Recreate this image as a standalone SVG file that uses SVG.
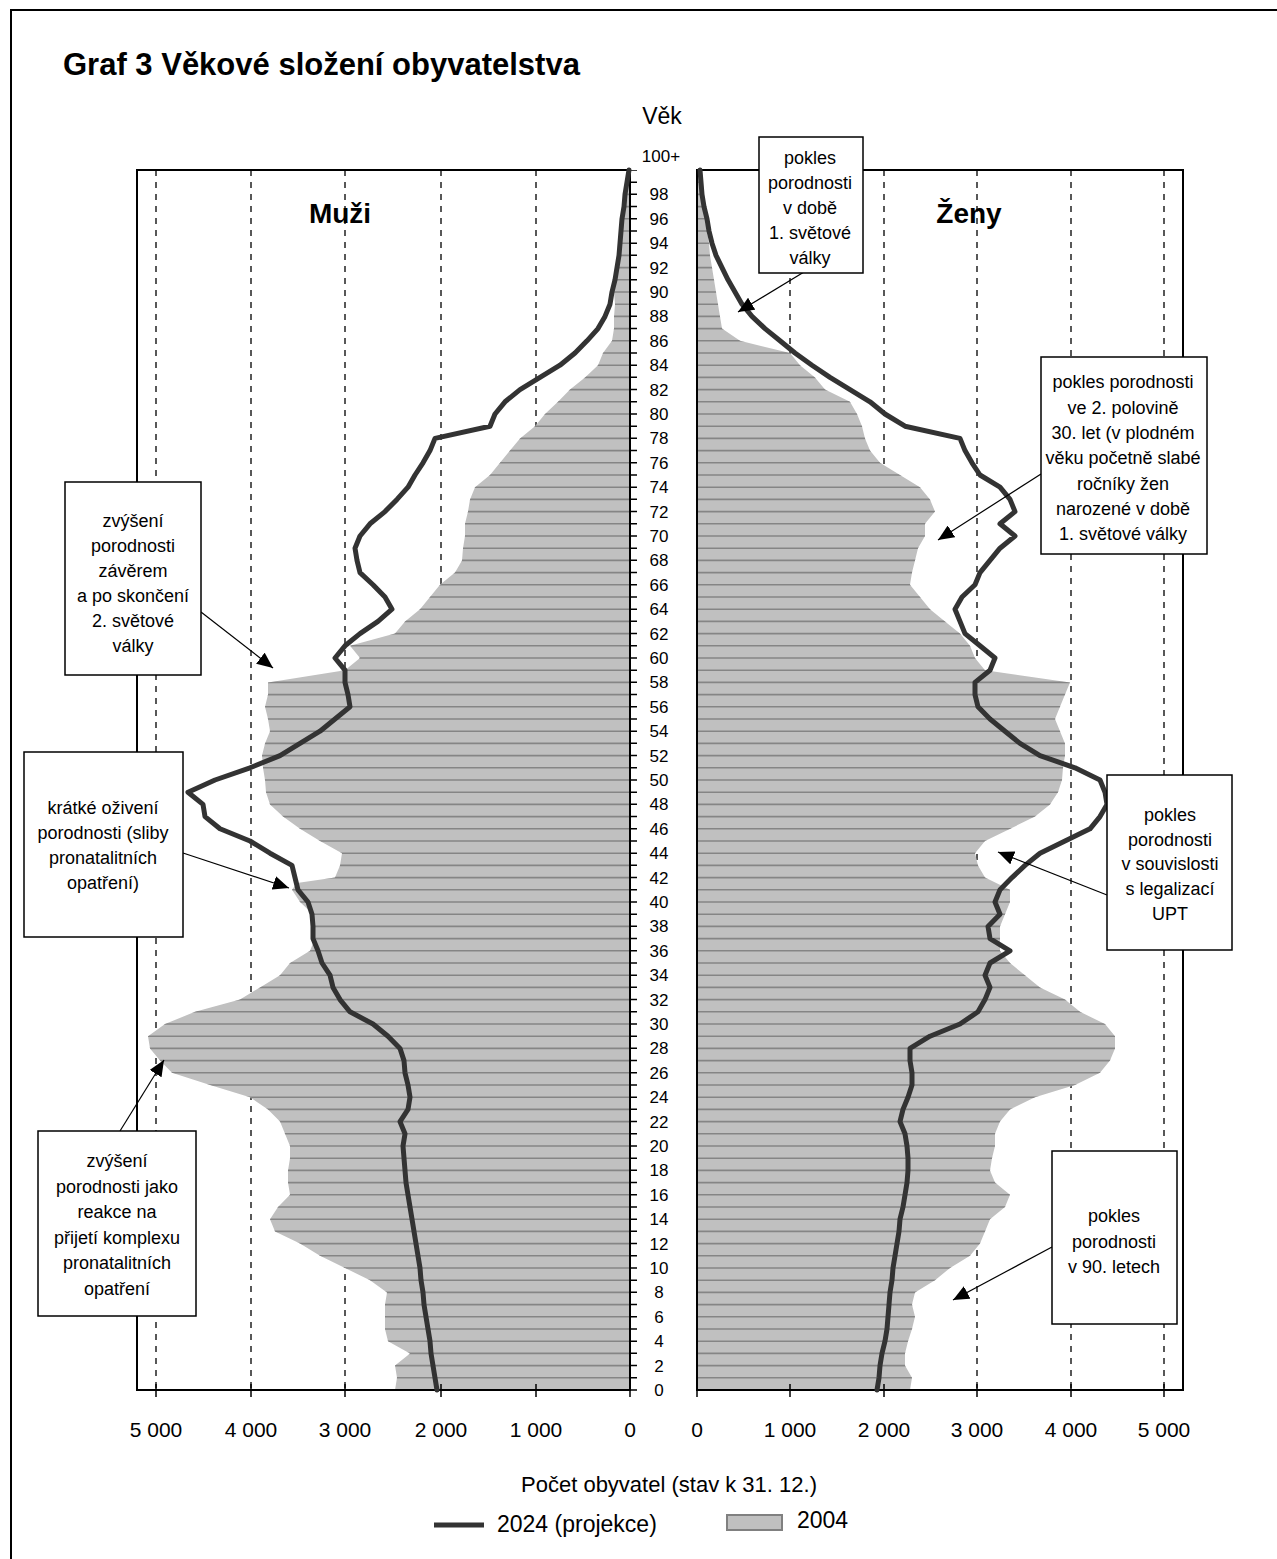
<svg xmlns="http://www.w3.org/2000/svg" width="1277" height="1559" viewBox="0 0 1277 1559">
<style>
.t{font-family:"Liberation Sans",Arial,sans-serif;fill:#000}
.ann{font-size:18px;text-anchor:middle}
.age{font-size:17px;text-anchor:middle}
.ax{font-size:21px;text-anchor:middle}
.box{fill:#fff;stroke:#000;stroke-width:1.5}
.grid{stroke:#222;stroke-width:1.5;stroke-dasharray:6 6;fill:none}
.bar{fill:#c0c0c0;stroke:none}
.line24{fill:none;stroke:#333;stroke-width:5;stroke-linejoin:round;stroke-linecap:round}
.frame{fill:none;stroke:#000;stroke-width:2}
.conn{stroke:#000;stroke-width:1.2;fill:none}
</style>
<defs>
<marker id="ah" markerWidth="18" markerHeight="14" refX="16" refY="7" orient="auto" markerUnits="userSpaceOnUse"><path d="M0,0 L16,7 L0,14 z" fill="#000"/></marker>
<clipPath id="barclip">
<polygon points="630,1390 395,1390 397,1377.8 395,1365.6 410,1353.4 388,1341.2 385,1329 385,1316.8 385,1304.6 387,1292.4 370,1280.2 345,1268 320,1255.8 300,1243.6 275,1231.4 270,1219.2 278,1207 290,1194.8 288,1182.6 288,1170.4 290,1158.2 290,1146 285,1133.8 280,1121.6 268,1109.4 250,1097.2 210,1085 172,1072.8 160,1060.6 150,1048.4 148,1036.2 165,1024 195,1011.8 240,999.6 260,987.4 280,975.2 290,963 310,950.8 315,938.6 312,926.4 313,914.2 300,902 292,889.8 297,883 335,877.6 340,865.4 342,853.2 320,841 300,828.8 283,816.6 270,804.4 266,792.2 265,780 263,767.8 262,755.6 265,743.4 270,731.2 268,719 265,706.8 268,694.6 268,682.4 345,670.2 360,658 350,645.8 395,633.6 405,621.4 420,609.2 430,597 440,584.8 455,572.6 462,560.4 463,548.2 465,536 465,523.8 468,511.6 470,499.4 475,487.2 490,475 500,462.8 510,450.6 520,438.4 535,426.2 545,414 558,401.8 570,389.6 585,377.4 598,365.2 603,353 612,340.8 614,328.6 614,316.4 615,304.2 614,292 615,279.8 617,267.6 618,255.4 620,243.2 621,231 622,218.8 624,206.6 626,194.4 628,182.2 630,170"/>
<polygon points="697,1390 910,1390 912,1377.8 905,1365.6 905,1353.4 908,1341.2 912,1329 915,1316.8 912,1304.6 915,1292.4 935,1280.2 950,1268 970,1255.8 980,1243.6 985,1231.4 990,1219.2 1005,1207 1010,1194.8 995,1182.6 990,1170.4 992,1158.2 995,1146 995,1133.8 1000,1121.6 1010,1109.4 1035,1097.2 1075,1085 1100,1072.8 1110,1060.6 1115,1048.4 1115,1036.2 1105,1024 1080,1011.8 1065,999.6 1040,987.4 1025,975.2 1010,963 1000,950.8 1000,938.6 1000,926.4 1005,914.2 1010,902 1010,889.8 985,877.6 978,865.4 975,853.2 985,841 1010,828.8 1035,816.6 1050,804.4 1058,792.2 1062,780 1063,767.8 1065,755.6 1065,743.4 1060,731.2 1055,719 1060,706.8 1065,694.6 1070,682.4 985,670.2 975,658 970,645.8 960,633.6 945,621.4 930,609.2 920,597 910,584.8 912,572.6 915,560.4 918,548.2 925,536 925,523.8 935,511.6 930,499.4 920,487.2 900,475 880,462.8 870,450.6 865,438.4 862,426.2 857,414 850,401.8 825,389.6 815,377.4 800,365.2 790,353 740,340.8 722,328.6 720,316.4 718,304.2 716,292 714,279.8 712,267.6 710,255.4 709,243.2 707,231 705,218.8 703,206.6 701,194.4 700,182.2 699,170 697,170"/>
</clipPath>
</defs>

<rect x="0" y="0" width="1277" height="1559" fill="#fff"/>
<path class="frame" d="M11,1559 V10 H1277"/>

<text class="t" x="63" y="75" font-size="31" font-weight="bold">Graf 3 Věkové složení obyvatelstva</text>
<text class="t" x="662" y="124" font-size="23" text-anchor="middle">Věk</text>

<g id="gridlines">
<path class="grid" d="M156,170V1390M251,170V1390M345,170V1390M441,170V1390M536,170V1390M790,170V1390M884,170V1390M977,170V1390M1071,170V1390M1164,170V1390"/>
</g>

<g id="bars2004">
<rect x="137" y="170" width="1046" height="1220" class="bar" clip-path="url(#barclip)"/>
<path clip-path="url(#barclip)" stroke="#858585" stroke-width="1.6" fill="none" d="M137,1377.8H1183M137,1365.6H1183M137,1353.4H1183M137,1341.2H1183M137,1329H1183M137,1316.8H1183M137,1304.6H1183M137,1292.4H1183M137,1280.2H1183M137,1268H1183M137,1255.8H1183M137,1243.6H1183M137,1231.4H1183M137,1219.2H1183M137,1207H1183M137,1194.8H1183M137,1182.6H1183M137,1170.4H1183M137,1158.2H1183M137,1146H1183M137,1133.8H1183M137,1121.6H1183M137,1109.4H1183M137,1097.2H1183M137,1085H1183M137,1072.8H1183M137,1060.6H1183M137,1048.4H1183M137,1036.2H1183M137,1024H1183M137,1011.8H1183M137,999.6H1183M137,987.4H1183M137,975.2H1183M137,963H1183M137,950.8H1183M137,938.6H1183M137,926.4H1183M137,914.2H1183M137,902H1183M137,889.8H1183M137,877.6H1183M137,865.4H1183M137,853.2H1183M137,841H1183M137,828.8H1183M137,816.6H1183M137,804.4H1183M137,792.2H1183M137,780H1183M137,767.8H1183M137,755.6H1183M137,743.4H1183M137,731.2H1183M137,719H1183M137,706.8H1183M137,694.6H1183M137,682.4H1183M137,670.2H1183M137,658H1183M137,645.8H1183M137,633.6H1183M137,621.4H1183M137,609.2H1183M137,597H1183M137,584.8H1183M137,572.6H1183M137,560.4H1183M137,548.2H1183M137,536H1183M137,523.8H1183M137,511.6H1183M137,499.4H1183M137,487.2H1183M137,475H1183M137,462.8H1183M137,450.6H1183M137,438.4H1183M137,426.2H1183M137,414H1183M137,401.8H1183M137,389.6H1183M137,377.4H1183M137,365.2H1183M137,353H1183M137,340.8H1183M137,328.6H1183M137,316.4H1183M137,304.2H1183M137,292H1183M137,279.8H1183M137,267.6H1183M137,255.4H1183M137,243.2H1183M137,231H1183M137,218.8H1183M137,206.6H1183M137,194.4H1183M137,182.2H1183"/>
</g>

<g id="panels">
<path class="frame" d="M630,170 H137 V1390 H630 V170"/>
<path class="frame" d="M697,170 H1183 V1390 H697 Z"/>
<line x1="633.5" y1="1390.7" x2="633.5" y2="170" stroke="#000" stroke-width="7" stroke-dasharray="1.5 10.7"/>
<path stroke="#000" stroke-width="1.5" d="M156,1384V1397M251,1384V1397M345,1384V1397M441,1384V1397M536,1384V1397M630,1384V1397M697,1384V1397M790,1384V1397M884,1384V1397M977,1384V1397M1071,1384V1397M1164,1384V1397"/>
</g>

<g id="lines2024">
<polyline class="line24" points="437,1390 435,1377.8 433,1365.6 431,1353.4 430,1341.2 428,1329 426,1316.8 424,1304.6 423,1292.4 421,1280.2 420,1268 418,1255.8 416,1243.6 414,1231.4 412,1219.2 410,1207 408,1194.8 406,1182.6 405,1170.4 404,1158.2 403,1146 405,1133.8 400,1121.6 408,1109.4 410,1097.2 408,1085 405,1072.8 404,1060.6 400,1048.4 388,1036.2 373,1024 350,1011.8 340,999.6 333,987.4 330,975.2 322,963 318,950.8 313,938.6 313,926.4 312,914.2 308,902 298,889.8 295,877.6 292,865.4 270,853.2 250,841 220,828.8 205,816.6 203,804.4 188,792.2 215,780 250,767.8 280,755.6 300,743.4 320,731.2 335,719 350,706.8 348,694.6 345,682.4 345,670.2 335,658 345,645.8 360,633.6 378,621.4 392,609.2 385,597 373,584.8 360,572.6 357,560.4 355,548.2 360,536 370,523.8 385,511.6 397,499.4 408,487.2 415,475 423,462.8 430,450.6 435,438.4 490,426.2 495,414 505,401.8 520,389.6 540,377.4 560,365.2 575,353 587,340.8 598,328.6 605,316.4 610,304.2 612,292 615,279.8 617,267.6 619,255.4 620,243.2 621,231 622,218.8 624,206.6 625,194.4 627,182.2 629,170"/>
<polyline class="line24" points="877,1390 879,1377.8 880,1365.6 882,1353.4 885,1341.2 887,1329 888,1316.8 889,1304.6 890,1292.4 892,1280.2 893,1268 895,1255.8 897,1243.6 899,1231.4 900,1219.2 903,1207 905,1194.8 907,1182.6 908,1170.4 908,1158.2 907,1146 905,1133.8 900,1121.6 903,1109.4 908,1097.2 912,1085 912,1072.8 910,1060.6 910,1048.4 930,1036.2 960,1024 978,1011.8 985,999.6 990,987.4 985,975.2 990,963 1010,950.8 990,938.6 988,926.4 1000,914.2 995,902 1000,889.8 1012,877.6 1025,865.4 1040,853.2 1065,841 1090,828.8 1100,816.6 1107,804.4 1105,792.2 1100,780 1075,767.8 1040,755.6 1020,743.4 1005,731.2 990,719 978,706.8 975,694.6 975,682.4 990,670.2 995,658 980,645.8 965,633.6 960,621.4 955,609.2 962,597 975,584.8 980,572.6 990,560.4 1000,548.2 1015,536 1000,523.8 1015,511.6 1010,499.4 1000,487.2 980,475 972,462.8 965,450.6 960,438.4 905,426.2 885,414 870,401.8 850,389.6 830,377.4 812,365.2 795,353 780,340.8 765,328.6 752,316.4 742,304.2 735,292 728,279.8 722,267.6 716,255.4 712,243.2 709,231 707,218.8 704,206.6 702,194.4 701,182.2 700,170"/>
</g>

<g id="age-labels" class="t age">
<text x="661" y="162">100+</text>
<text x="659" y="200.4">98</text><text x="659" y="224.8">96</text><text x="659" y="249.2">94</text><text x="659" y="273.6">92</text><text x="659" y="298">90</text>
<text x="659" y="322.4">88</text><text x="659" y="346.8">86</text><text x="659" y="371.2">84</text><text x="659" y="395.6">82</text><text x="659" y="420">80</text>
<text x="659" y="444.4">78</text><text x="659" y="468.8">76</text><text x="659" y="493.2">74</text><text x="659" y="517.6">72</text><text x="659" y="542">70</text>
<text x="659" y="566.4">68</text><text x="659" y="590.8">66</text><text x="659" y="615.2">64</text><text x="659" y="639.6">62</text><text x="659" y="664">60</text>
<text x="659" y="688.4">58</text><text x="659" y="712.8">56</text><text x="659" y="737.2">54</text><text x="659" y="761.6">52</text><text x="659" y="786">50</text>
<text x="659" y="810.4">48</text><text x="659" y="834.8">46</text><text x="659" y="859.2">44</text><text x="659" y="883.6">42</text><text x="659" y="908">40</text>
<text x="659" y="932.4">38</text><text x="659" y="956.8">36</text><text x="659" y="981.2">34</text><text x="659" y="1005.6">32</text><text x="659" y="1030">30</text>
<text x="659" y="1054.4">28</text><text x="659" y="1078.8">26</text><text x="659" y="1103.2">24</text><text x="659" y="1127.6">22</text><text x="659" y="1152">20</text>
<text x="659" y="1176.4">18</text><text x="659" y="1200.8">16</text><text x="659" y="1225.2">14</text><text x="659" y="1249.6">12</text><text x="659" y="1274">10</text>
<text x="659" y="1298.4">8</text><text x="659" y="1322.8">6</text><text x="659" y="1347.2">4</text><text x="659" y="1371.6">2</text><text x="659" y="1396">0</text>
</g>

<g id="x-labels" class="t ax">
<text x="156" y="1437">5 000</text><text x="251" y="1437">4 000</text><text x="345" y="1437">3 000</text><text x="441" y="1437">2 000</text><text x="536" y="1437">1 000</text><text x="630" y="1437">0</text>
<text x="697" y="1437">0</text><text x="790" y="1437">1 000</text><text x="884" y="1437">2 000</text><text x="977" y="1437">3 000</text><text x="1071" y="1437">4 000</text><text x="1164" y="1437">5 000</text>
</g>

<text class="t" x="340" y="223" font-size="28" font-weight="bold" text-anchor="middle">Muži</text>
<text class="t" x="969" y="223" font-size="28" font-weight="bold" text-anchor="middle">Ženy</text>

<g id="connectors">
<line class="conn" x1="804" y1="272" x2="738" y2="312" marker-end="url(#ah)"/>
<line class="conn" x1="1041" y1="474" x2="938" y2="540" marker-end="url(#ah)"/>
<line class="conn" x1="201" y1="612" x2="273" y2="668" marker-end="url(#ah)"/>
<line class="conn" x1="183" y1="853" x2="289" y2="888" marker-end="url(#ah)"/>
<line class="conn" x1="1107" y1="895" x2="998" y2="852" marker-end="url(#ah)"/>
<line class="conn" x1="120" y1="1131" x2="164" y2="1060" marker-end="url(#ah)"/>
<line class="conn" x1="1052" y1="1247" x2="953" y2="1300" marker-end="url(#ah)"/>
</g>

<g id="note-ww1">
<rect class="box" x="759" y="137" width="104" height="136"/>
<text class="t ann" x="810" y="164">pokles</text>
<text class="t ann" x="810" y="189">porodnosti</text>
<text class="t ann" x="810" y="214">v době</text>
<text class="t ann" x="810" y="239">1. světové</text>
<text class="t ann" x="810" y="264">války</text>
</g>

<g id="note-30s">
<rect class="box" x="1041" y="357" width="166" height="197"/>
<text class="t ann" x="1123" y="388">pokles porodnosti</text>
<text class="t ann" x="1123" y="413.5">ve 2. polovině</text>
<text class="t ann" x="1123" y="439">30. let (v plodném</text>
<text class="t ann" x="1123" y="464">věku početně slabé</text>
<text class="t ann" x="1123" y="489.5">ročníky žen</text>
<text class="t ann" x="1123" y="515">narozené v době</text>
<text class="t ann" x="1123" y="540">1. světové války</text>
</g>

<g id="note-ww2">
<rect class="box" x="65" y="482" width="136" height="193"/>
<text class="t ann" x="133" y="527">zvýšení</text>
<text class="t ann" x="133" y="552">porodnosti</text>
<text class="t ann" x="133" y="577">závěrem</text>
<text class="t ann" x="133" y="602">a po skončení</text>
<text class="t ann" x="133" y="627">2. světové</text>
<text class="t ann" x="133" y="652">války</text>
</g>

<g id="note-short">
<rect class="box" x="24" y="752" width="159" height="185"/>
<text class="t ann" x="103" y="814">krátké oživení</text>
<text class="t ann" x="103" y="839">porodnosti (sliby</text>
<text class="t ann" x="103" y="864">pronatalitních</text>
<text class="t ann" x="103" y="889">opatření)</text>
</g>

<g id="note-upt">
<rect class="box" x="1107" y="775" width="125" height="175"/>
<text class="t ann" x="1170" y="821">pokles</text>
<text class="t ann" x="1170" y="846">porodnosti</text>
<text class="t ann" x="1170" y="870">v souvislosti</text>
<text class="t ann" x="1170" y="895">s legalizací</text>
<text class="t ann" x="1170" y="920">UPT</text>
</g>

<g id="note-70s">
<rect class="box" x="38" y="1131" width="158" height="185"/>
<text class="t ann" x="117" y="1167">zvýšení</text>
<text class="t ann" x="117" y="1193">porodnosti jako</text>
<text class="t ann" x="117" y="1218">reakce na</text>
<text class="t ann" x="117" y="1244">přijetí komplexu</text>
<text class="t ann" x="117" y="1269">pronatalitních</text>
<text class="t ann" x="117" y="1295">opatření</text>
</g>

<g id="note-90s">
<rect class="box" x="1052" y="1151" width="125" height="173"/>
<text class="t ann" x="1114" y="1222">pokles</text>
<text class="t ann" x="1114" y="1248">porodnosti</text>
<text class="t ann" x="1114" y="1273">v 90. letech</text>
</g>

<g id="legend">
<text class="t" x="669" y="1492" font-size="22" text-anchor="middle">Počet obyvatel (stav k 31. 12.)</text>
<line x1="434" y1="1525" x2="484" y2="1525" stroke="#333" stroke-width="5"/>
<text class="t" x="497" y="1532" font-size="23">2024 (projekce)</text>
<rect x="727" y="1515" width="55" height="15" fill="#c0c0c0" stroke="#808080" stroke-width="2"/>
<text class="t" x="797" y="1528" font-size="23">2004</text>
</g>
</svg>
